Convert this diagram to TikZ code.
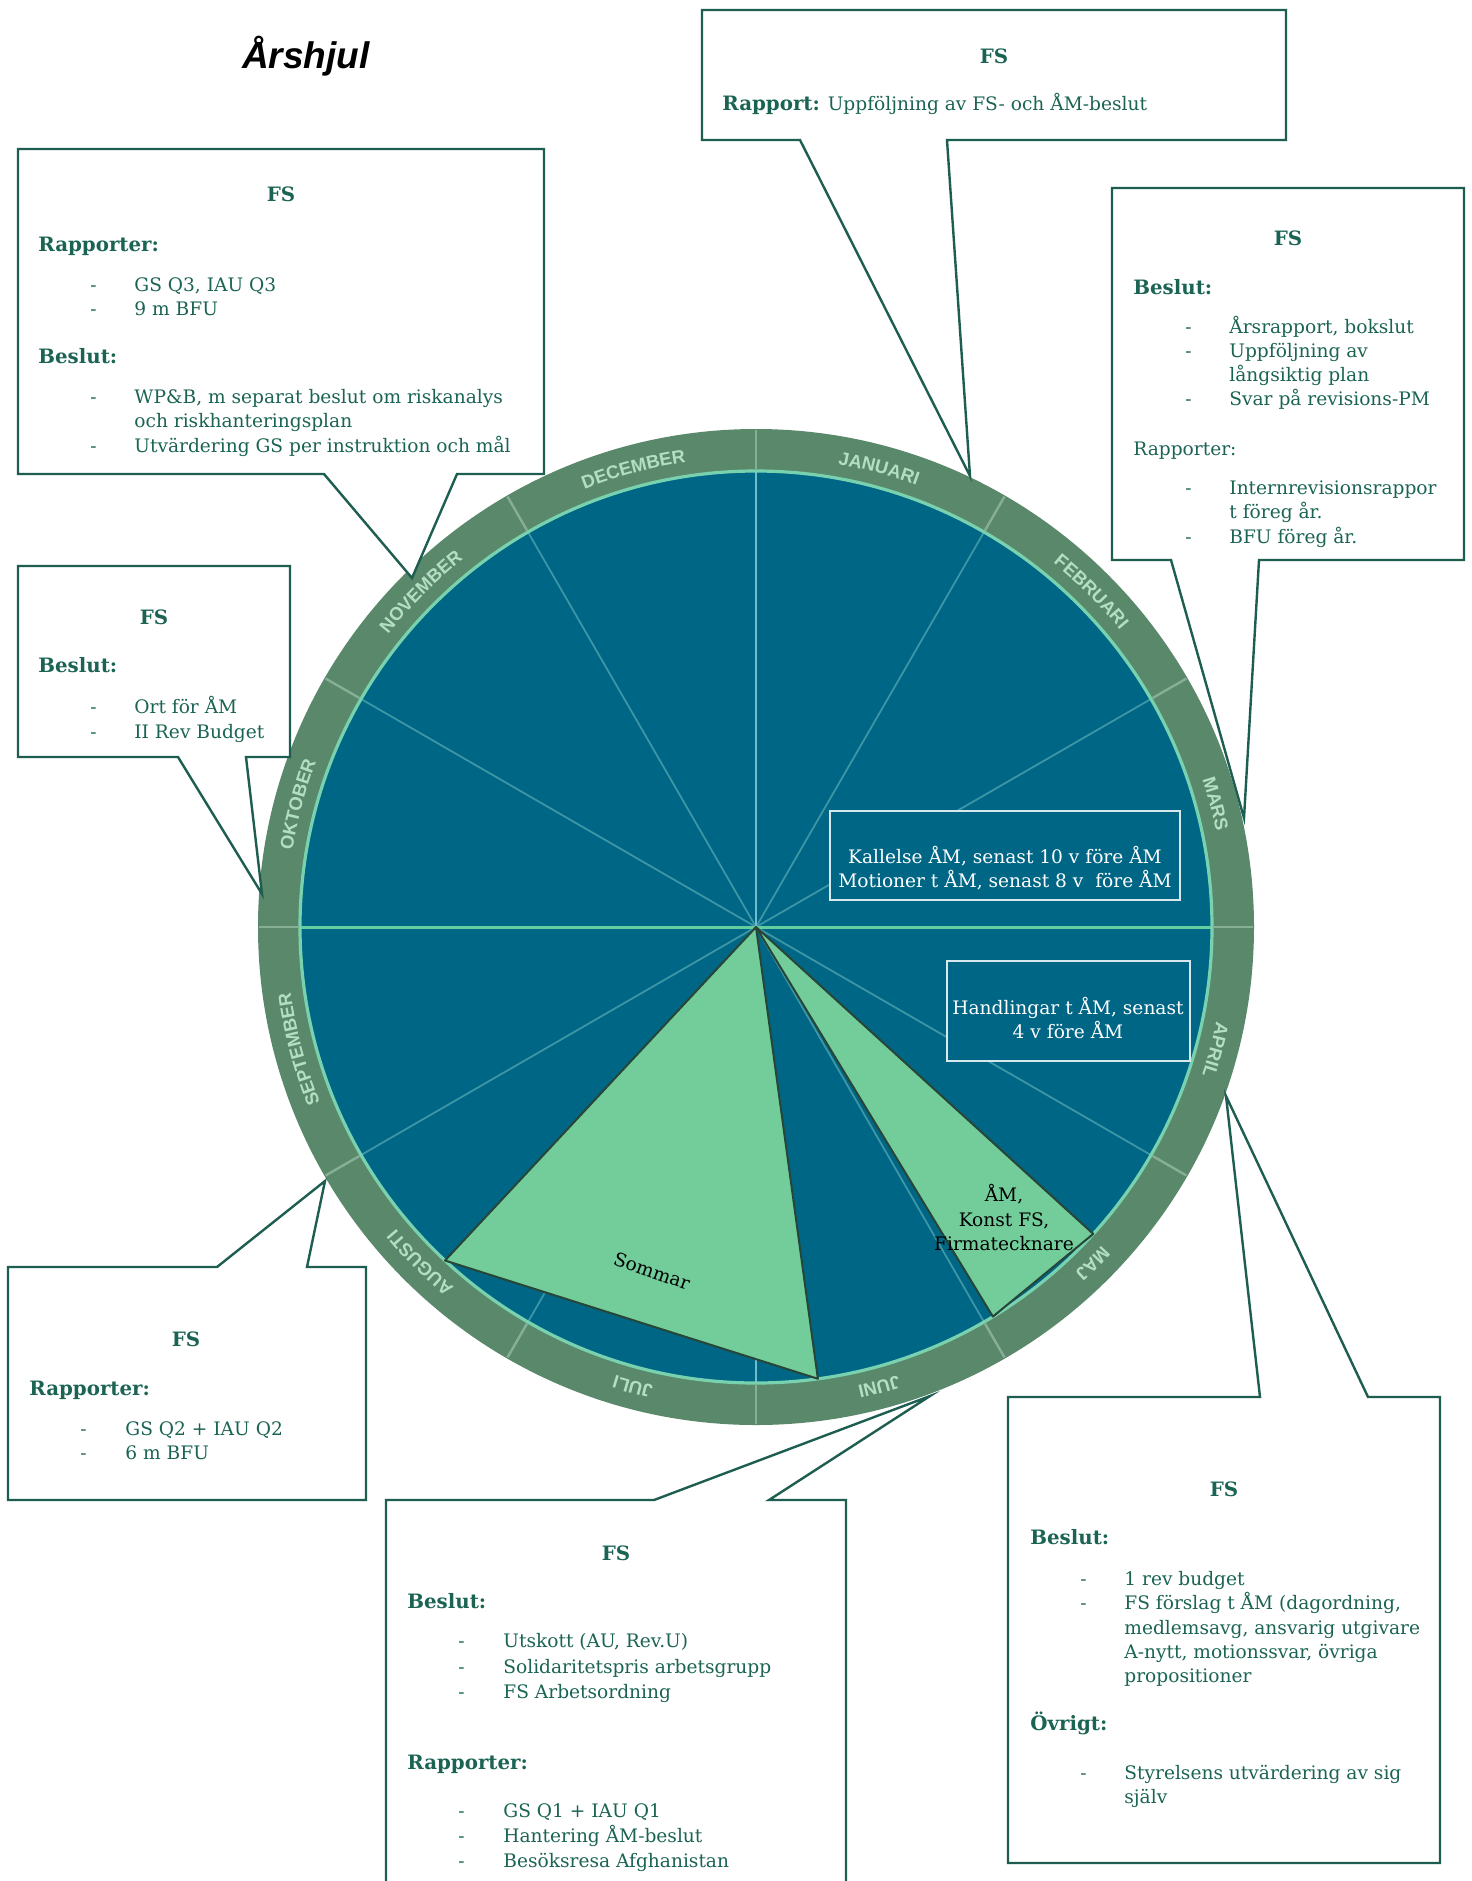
\documentclass[tikz,border=0pt]{standalone}
\usepackage{fontspec}
\setmainfont{DejaVu Serif}
\newfontfamily\sansfam{Liberation Sans}
\usetikzlibrary{decorations.text}
\definecolor{tgreen}{RGB}{27,100,84}
\definecolor{bline}{RGB}{30,94,80}
\definecolor{wblue}{RGB}{0,102,133}
\definecolor{wring}{RGB}{90,136,106}
\definecolor{wlight}{RGB}{114,205,155}
\definecolor{wspoke}{RGB}{60,150,165}
\definecolor{wcirc}{RGB}{120,210,175}
\definecolor{whline}{RGB}{100,205,160}
\definecolor{wvline}{RGB}{110,190,205}
\definecolor{wdiv}{RGB}{135,175,150}
\definecolor{rtext}{RGB}{180,222,195}
\definecolor{sliceedge}{RGB}{40,70,55}
\newcommand{\bodyfont}{\fontsize{9.3}{12}\selectfont}
\newcommand{\headfont}{\fontsize{9.9}{12}\selectfont\bfseries}
\newcommand{\ringfont}{\sansfam\bfseries\fontsize{9.2}{10}\selectfont}
\begin{document}
\begin{tikzpicture}[x=0.5pt,y=-0.5pt,
  txt/.style={anchor=base west, inner sep=0pt, text=tgreen, font=\bodyfont},
  hd/.style={anchor=base west, inner sep=0pt, text=tgreen, font=\headfont},
  fshead/.style={anchor=base, inner sep=0pt, text=tgreen, font=\headfont},
  callout/.style={draw=bline, line width=1.2pt, fill=white, line join=miter},
  wtxt/.style={anchor=base, inner sep=0pt, text=white, font=\bodyfont},
  btxt/.style={anchor=base, inner sep=0pt, text=black, font=\bodyfont},
  inbox/.style={draw=white!85!wblue, line width=0.8pt, fill=wblue},
  slice/.style={fill=wlight, draw=sliceedge, line width=1pt, line join=round},
  ringlbl/.style={decorate, decoration={text along path, text align=center, text color=rtext, text={|\ringfont|#1}}}
]
\useasboundingbox (0,0) rectangle (1472,1881);
\clip (0,0) rectangle (1472,1881);
\fill[white] (0,0) rectangle (1472,1881);

% ---------- wheel ----------
\begin{scope}[shift={(756,927)}, x=0.5pt, y=0.5pt]
  \fill[wring] (0,0) circle[radius=498];
  \fill[wblue] (0,0) circle[radius=456];
  \foreach \a in {0,30,...,330} \draw[wspoke, line width=0.9pt] (0,0) -- (\a:456);
  \foreach \a in {0,30,...,330} \draw[wdiv, line width=1.2pt] (\a:458) -- (\a:497);
  \draw[wvline, line width=1pt] (90:456) -- (270:456);
  \draw[whline, line width=1.5pt] (180:456) -- (0:456);
  \draw[wcirc, line width=1.6pt] (0,0) circle[radius=456];
  \filldraw[slice] (0,0) -- (227:456) -- (-82.2:456) -- cycle;
  \filldraw[slice] (0,0) -- (-42.3:456) -- (-58.7:456) -- cycle;
  \path[ringlbl=JANUARI]   (100:470) arc[start angle=100, end angle=50, radius=470];
  \path[ringlbl=FEBRUARI]  (70:470) arc[start angle=70, end angle=20, radius=470];
  \path[ringlbl=MARS]      (40:470) arc[start angle=40, end angle=-10, radius=470];
  \path[ringlbl=APRIL]     (10:470) arc[start angle=10, end angle=-40, radius=470];
  \path[ringlbl=MAJ]       (-20:470) arc[start angle=-20, end angle=-70, radius=470];
  \path[ringlbl=JUNI]      (-50:470) arc[start angle=-50, end angle=-100, radius=470];
  \path[ringlbl=JULI]      (-80:470) arc[start angle=-80, end angle=-130, radius=470];
  \path[ringlbl=AUGUSTI]   (-110:470) arc[start angle=-110, end angle=-160, radius=470];
  \path[ringlbl=SEPTEMBER] (-140:470) arc[start angle=-140, end angle=-190, radius=470];
  \path[ringlbl=OKTOBER]   (190:470) arc[start angle=190, end angle=140, radius=470];
  \path[ringlbl=NOVEMBER]  (160:470) arc[start angle=160, end angle=110, radius=470];
  \path[ringlbl=DECEMBER]  (130:470) arc[start angle=130, end angle=80, radius=470];
\end{scope}

% ---------- boxes inside wheel ----------
\draw[inbox] (830,811) rectangle (1180,900);
\node[wtxt] (kal1) at (1005,863) {Kallelse ÅM, senast 10 v före ÅM};
\node[wtxt] (kal2) at (1005,887) {Motioner t ÅM, senast 8 v\ \ före ÅM};
\draw[inbox] (947,961) rectangle (1190,1061);
\node[wtxt] (han1) at (1068,1014) {Handlingar t ÅM, senast};
\node[wtxt] (han2) at (1068,1038) {4 v före ÅM};
\node[btxt] (am1) at (1004,1201) {ÅM,};
\node[btxt] (am2) at (1004,1226) {Konst FS,};
\node[btxt] (am3) at (1004,1250) {Firmatecknare};
\node[rotate=-19, inner sep=0pt, text=black, font=\bodyfont] (sommar) at (652,1271) {Sommar};

% ---------- title ----------
\node[font=\sansfam\bfseries\itshape\fontsize{18.5}{22}\selectfont, text=black] (title) at (306,56) {Årshjul};

% ---------- callout tips ----------
\coordinate (tipJan) at (970,476);
\coordinate (tipMar) at (1244,818);
\coordinate (tipNov) at (412,578);
\coordinate (tipOkt) at (262,894);
\coordinate (tipAug) at (325,1181);
\coordinate (tipJun) at (930,1396);
\coordinate (tipApr) at (1226,1096);

% ---------- callout: Januari ----------
\draw[callout] (702,10) -- (1286,10) -- (1286,140) -- (947,140) -- (tipJan) -- (800,140) -- (702,140) -- cycle;
\node[fshead] (janfs) at (994,63) {FS};
\node[txt] (jan1) at (722,110) {{\headfont Rapport:} Uppföljning av FS- och ÅM-beslut};

% ---------- callout: Mars ----------
\draw[callout] (1112,188) -- (1464,188) -- (1464,560) -- (1259,560) -- (tipMar) -- (1171,560) -- (1112,560) -- cycle;
\node[fshead] (marfs) at (1288,245) {FS};
\node[hd] (marb) at (1133,294) {Beslut:};
\node[txt] (mard1) at (1185,333) {-};
\node[txt] (mar1) at (1229,333) {Årsrapport, bokslut};
\node[txt] (mard2) at (1185,357) {-};
\node[txt] (mar2) at (1229,357) {Uppföljning av};
\node[txt] (mar3) at (1229,381) {långsiktig plan};
\node[txt] (mard4) at (1185,405) {-};
\node[txt] (mar4) at (1229,405) {Svar på revisions-PM};
\node[txt] (marr) at (1133,455) {Rapporter:};
\node[txt] (mard5) at (1185,494) {-};
\node[txt] (mar5) at (1229,494) {Internrevisionsrappor};
\node[txt] (mar6) at (1229,518) {t föreg år.};
\node[txt] (mard7) at (1185,543) {-};
\node[txt] (mar7) at (1229,543) {BFU föreg år.};

% ---------- callout: November ----------
\draw[callout] (18,149) -- (544,149) -- (544,474) -- (457,474) -- (tipNov) -- (324,474) -- (18,474) -- cycle;
\node[fshead] (novfs) at (281,201) {FS};
\node[hd] (novr) at (38,251) {Rapporter:};
\node[txt] (novd1) at (90,291) {-};
\node[txt] (nov1) at (134,291) {GS Q3, IAU Q3};
\node[txt] (novd2) at (90,315) {-};
\node[txt] (nov2) at (134,315) {9 m BFU};
\node[hd] (novb) at (38,363) {Beslut:};
\node[txt] (novd3) at (90,403) {-};
\node[txt] (nov3) at (134,403) {WP\&B, m separat beslut om riskanalys};
\node[txt] (nov4) at (134,427) {och riskhanteringsplan};
\node[txt] (novd5) at (90,452) {-};
\node[txt] (nov5) at (134,452) {Utvärdering GS per instruktion och mål};

% ---------- callout: Oktober ----------
\draw[callout] (18,566) -- (290,566) -- (290,757) -- (246,757) -- (tipOkt) -- (178,757) -- (18,757) -- cycle;
\node[fshead] (oktfs) at (154,624) {FS};
\node[hd] (oktb) at (38,672) {Beslut:};
\node[txt] (oktd1) at (90,713) {-};
\node[txt] (okt1) at (134,713) {Ort för ÅM};
\node[txt] (oktd2) at (90,738) {-};
\node[txt] (okt2) at (134,738) {II Rev Budget};

% ---------- callout: Augusti ----------
\draw[callout] (8,1267) -- (217,1267) -- (tipAug) -- (307,1267) -- (366,1267) -- (366,1500) -- (8,1500) -- cycle;
\node[fshead] (augfs) at (186,1346) {FS};
\node[hd] (augr) at (29,1395) {Rapporter:};
\node[txt] (augd1) at (80,1435) {-};
\node[txt] (aug1) at (125,1435) {GS Q2 + IAU Q2};
\node[txt] (augd2) at (80,1459) {-};
\node[txt] (aug2) at (125,1459) {6 m BFU};

% ---------- callout: Juni ----------
\draw[callout] (386,1900) -- (386,1500) -- (654,1500) -- (tipJun) -- (769,1500) -- (846,1500) -- (846,1900);
\node[fshead] (junfs) at (616,1560) {FS};
\node[hd] (junb) at (407,1608) {Beslut:};
\node[txt] (jund1) at (458,1647) {-};
\node[txt] (jun1) at (503,1647) {Utskott (AU, Rev.U)};
\node[txt] (jund2) at (458,1673) {-};
\node[txt] (jun2) at (503,1673) {Solidaritetspris arbetsgrupp};
\node[txt] (jund3) at (458,1698) {-};
\node[txt] (jun3) at (503,1698) {FS Arbetsordning};
\node[hd] (junr) at (407,1769) {Rapporter:};
\node[txt] (jund4) at (458,1817) {-};
\node[txt] (jun4) at (503,1817) {GS Q1 + IAU Q1};
\node[txt] (jund5) at (458,1842) {-};
\node[txt] (jun5) at (503,1842) {Hantering ÅM-beslut};
\node[txt] (jund6) at (458,1867) {-};
\node[txt] (jun6) at (503,1867) {Besöksresa Afghanistan};

% ---------- callout: April ----------
\draw[callout] (1008,1397) -- (1260,1397) -- (tipApr) -- (1368,1397) -- (1440,1397) -- (1440,1863) -- (1008,1863) -- cycle;
\node[fshead] (aprfs) at (1224,1496) {FS};
\node[hd] (aprb) at (1030,1544) {Beslut:};
\node[txt] (aprd1) at (1080,1585) {-};
\node[txt] (apr1) at (1124,1585) {1 rev budget};
\node[txt] (aprd2) at (1080,1609) {-};
\node[txt] (apr2) at (1124,1609) {FS förslag t ÅM (dagordning,};
\node[txt] (apr3) at (1124,1634) {medlemsavg, ansvarig utgivare};
\node[txt] (apr4) at (1124,1658) {A-nytt, motionssvar, övriga};
\node[txt] (apr5) at (1124,1682) {propositioner};
\node[hd] (apro) at (1030,1730) {Övrigt:};
\node[txt] (aprd6) at (1080,1779) {-};
\node[txt] (apr6) at (1124,1779) {Styrelsens utvärdering av sig};
\node[txt] (apr7) at (1124,1803) {själv};
\end{tikzpicture}
\end{document}
